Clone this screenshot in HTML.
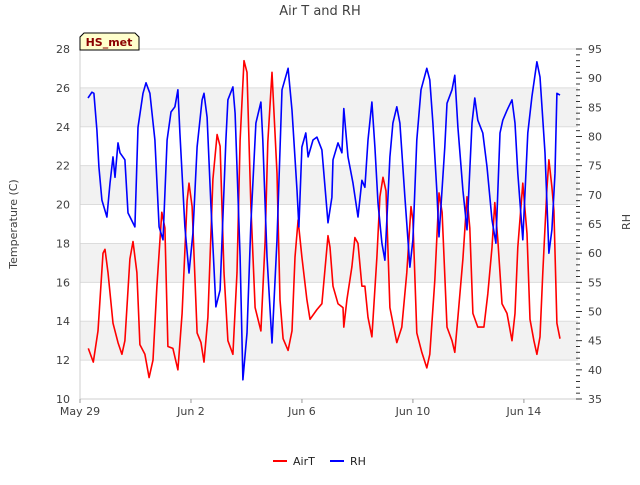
<!DOCTYPE html>
<html><head><meta charset="utf-8"><style>
body{margin:0;background:#fff;font-family:"Liberation Sans","DejaVu Sans",sans-serif}
svg text{font-family:"DejaVu Sans","Liberation Sans",sans-serif}
</style></head><body>
<svg id="chart" width="640" height="480" xmlns="http://www.w3.org/2000/svg">
<g id="bands"></g>
<g id="grid"></g>
<g id="series"></g>
<g id="axes"></g>
<text x="320" y="15" text-anchor="middle" font-size="13" fill="#404040">Air T and RH</text>
<text transform="translate(17,224) rotate(-90)" text-anchor="middle" font-size="11" fill="#404040">Temperature (C)</text>
<text transform="translate(630,222) rotate(-90)" text-anchor="middle" font-size="11" fill="#404040">RH</text>
<g>
<path d="M80,50 L80,37 L84,33 L135,33 L139,37 L139,50 Z" fill="#ffffcc" stroke="#000" stroke-width="1"/>
<text x="109" y="46" text-anchor="middle" font-size="11" font-weight="bold" fill="#8b0000">HS_met</text>
</g>
<g>
<g><line x1="273" y1="461" x2="287" y2="461" stroke="#ff0000" stroke-width="2"/><text x="293" y="465" font-size="11" fill="#222">AirT</text></g>
<g><line x1="330" y1="461" x2="344" y2="461" stroke="#0000ff" stroke-width="2"/><text x="350" y="465" font-size="11" fill="#222">RH</text></g>
</g>
</svg>
<script>
const xTickLabels=["May 29","Jun 2","Jun 6","Jun 10","Jun 14"];
const xTickDays=[0,4,8,12,16];
const leftTicks=[10,12,14,16,18,20,22,24,26,28];
const rightTicks=[35,40,45,50,55,60,65,70,75,80,85,90,95];
const airtDays=[0.30,0.48,0.65,0.83,0.90,1.01,1.19,1.37,1.51,1.62,1.80,1.91,2.05,2.16,2.34,2.49,2.63,2.77,2.95,3.06,3.17,3.35,3.53,3.68,3.86,3.93,4.04,4.22,4.36,4.47,4.61,4.79,4.94,5.05,5.19,5.33,5.51,5.66,5.77,5.91,6.02,6.16,6.31,6.52,6.67,6.77,6.92,7.10,7.21,7.32,7.50,7.64,7.75,7.86,8.00,8.18,8.29,8.54,8.72,8.94,9.01,9.12,9.30,9.48,9.51,9.62,9.80,9.91,10.02,10.16,10.27,10.38,10.52,10.70,10.81,10.92,11.03,11.17,11.42,11.60,11.78,11.93,12.00,12.14,12.32,12.50,12.61,12.79,12.94,13.05,13.23,13.41,13.51,13.62,13.80,13.95,14.05,14.16,14.34,14.56,14.70,14.85,14.95,15.06,15.21,15.39,15.57,15.68,15.78,15.96,16.11,16.22,16.36,16.47,16.58,16.68,16.83,16.90,17.01,17.08,17.19,17.30];
const airtValues=[12.6,11.9,13.5,17.5,17.7,16.5,13.9,12.9,12.3,13.0,17.2,18.1,16.5,12.8,12.3,11.1,12.0,15.8,19.6,18.8,12.7,12.6,11.5,14.4,20.2,21.1,19.9,13.4,12.9,11.9,14.2,21.3,23.6,23.0,16.5,13.0,12.3,16.5,23.3,27.4,26.8,19.9,14.7,13.5,18.1,23.2,26.8,21.6,15.1,13.1,12.5,13.5,17.3,19.2,17.3,15.1,14.1,14.6,14.9,18.4,17.8,15.8,14.9,14.7,13.7,15.1,16.8,18.3,18.0,15.8,15.8,14.2,13.2,17.3,20.4,21.4,20.7,14.7,12.9,13.7,16.5,19.9,19.2,13.4,12.4,11.6,12.3,16.1,20.6,19.6,13.7,13.0,12.4,14.2,17.2,20.4,18.8,14.4,13.7,13.7,15.4,17.8,20.1,18.2,14.9,14.4,13.0,14.4,17.8,21.1,18.5,14.1,13.0,12.3,13.2,16.5,20.8,22.3,20.9,19.7,13.9,13.1];
const rhDays=[0.29,0.43,0.50,0.61,0.68,0.79,0.97,1.08,1.19,1.26,1.37,1.44,1.62,1.73,1.98,2.09,2.27,2.38,2.52,2.70,2.85,2.99,3.14,3.28,3.42,3.53,3.60,3.78,3.93,4.07,4.22,4.40,4.47,4.58,4.72,4.90,5.05,5.26,5.33,5.51,5.59,5.77,5.87,6.02,6.16,6.34,6.52,6.59,6.74,6.92,7.10,7.28,7.50,7.64,7.82,7.89,8.00,8.14,8.22,8.40,8.54,8.72,8.94,9.08,9.12,9.30,9.44,9.51,9.66,9.84,10.02,10.16,10.27,10.38,10.52,10.63,10.74,10.88,10.99,11.17,11.28,11.42,11.53,11.71,11.89,12.00,12.14,12.29,12.50,12.61,12.72,12.86,12.94,13.15,13.23,13.41,13.51,13.62,13.80,13.95,14.13,14.23,14.34,14.52,14.67,14.85,14.99,15.14,15.24,15.39,15.57,15.68,15.78,15.96,16.14,16.29,16.47,16.58,16.76,16.90,17.01,17.12,17.19,17.30];
const rhValues=[86.6,87.6,87.4,81.1,74.8,69.1,66.2,72.0,76.5,73.0,78.9,77.2,76.0,66.9,64.5,81.6,87.4,89.2,87.4,79.4,64.5,62.3,79.4,84.2,85.1,88.0,80.6,64.5,56.6,63.4,78.2,86.3,87.4,83.3,67.9,50.8,53.7,79.4,86.3,88.5,84.0,59.4,38.3,46.3,65.2,82.3,85.9,79.4,59.4,44.6,62.3,88.0,91.7,84.5,70.8,64.5,78.2,80.6,76.5,79.4,79.9,77.7,65.2,69.6,76.0,78.9,77.2,84.8,76.5,72.0,66.2,72.5,71.3,79.4,85.9,78.2,68.6,61.7,58.8,76.5,82.3,85.1,82.3,69.6,57.6,62.3,79.4,88.0,91.7,89.7,82.3,70.8,62.8,78.2,85.7,88.0,90.5,81.6,70.8,64.0,82.3,86.6,82.8,80.6,74.8,65.7,61.7,80.6,82.8,84.5,86.3,82.3,73.7,62.3,80.6,86.8,92.8,90.2,77.2,60.0,64.0,73.7,87.4,87.1];

const L=80,R=578,T=49,B=399;
const NS="http://www.w3.org/2000/svg";
const xS=d=>L+d*(R-L)/17.95;
const yT=v=>B-(v-10)*(B-T)/18;
const yR=v=>B-(v-35)*(B-T)/60;
function mk(tag,attrs,parent){const e=document.createElementNS(NS,tag);for(const k in attrs)e.setAttribute(k,attrs[k]);parent.appendChild(e);return e;}
const bands=document.getElementById('bands'),grid=document.getElementById('grid'),axes=document.getElementById('axes'),series=document.getElementById('series');
for(let i=0;i<leftTicks.length-1;i++){
  if(i%2===1){const r=mk('rect',{x:L,y:yT(leftTicks[i+1]),width:R-L,height:yT(leftTicks[i])-yT(leftTicks[i+1]),fill:'#f2f2f2'},bands);
  }
}
leftTicks.forEach(v=>{
  const g=mk('line',{x1:L,x2:R,y1:yT(v),y2:yT(v),stroke:'#dcdcdc','stroke-width':1},grid);
  
  const t=mk('text',{x:L-10,y:yT(v)+4,'text-anchor':'end','font-size':11,fill:'#404040'},axes);
  t.textContent=v;
});
mk('line',{x1:L,x2:L,y1:T,y2:B,stroke:'#cfcfcf'},axes);
mk('line',{x1:L,x2:R,y1:B,y2:B,stroke:'#cfcfcf'},axes);
for(let v=35;v<=95;v++){
  const major=rightTicks.includes(v);
  const tk=mk('line',{x1:R-2,x2:R+(major?4:2),y1:yR(v),y2:yR(v),stroke:'#333','stroke-width':1},axes);
  
}
rightTicks.forEach(v=>{
  const t=mk('text',{x:R+10,y:yR(v)+4,'font-size':11,fill:'#404040'},axes);
  t.textContent=v;
});
xTickDays.forEach((d,i)=>{
  const tk=mk('line',{x1:xS(d),x2:xS(d),y1:B,y2:B+4,stroke:'#999'},axes);
  
  const t=mk('text',{x:xS(d),y:B+16,'text-anchor':'middle','font-size':11,fill:'#404040'},axes);
  t.textContent=xTickLabels[i];
});
function line(days,vals,ys,color,name){
  const p=days.map((d,i)=>(i?'L':'M')+xS(d).toFixed(1)+','+ys(vals[i]).toFixed(1)).join('');
  const e=mk('path',{d:p,fill:'none',stroke:color,'stroke-width':1.6,'stroke-linejoin':'round'},series);
  
}
line(airtDays,airtValues,yT,'#ff0000','airt-line');
line(rhDays,rhValues,yR,'#0000ff','rh-line');
</script>
</body></html>
